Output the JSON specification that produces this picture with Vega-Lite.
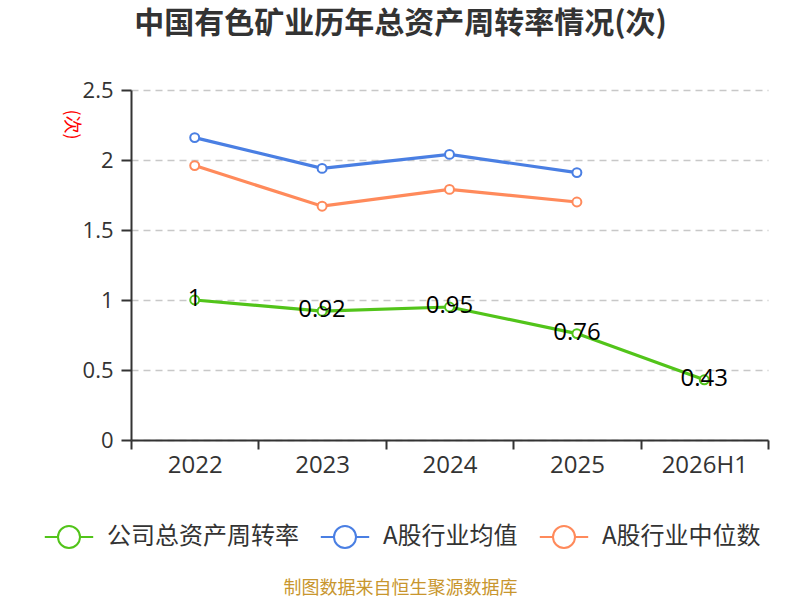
{
  "$schema": "https://vega.github.io/schema/vega-lite/v6.json",
  "width": 637,
  "height": 350,
  "autosize": {"type": "none"},
  "padding": {"left": 131, "top": 90, "right": 32, "bottom": 160},
  "background": "white",
  "title": {
    "text": "中国有色矿业历年总资产周转率情况(次)",
    "font": "Noto Sans CJK SC",
    "fontSize": 30,
    "fontWeight": "bold",
    "color": "#333333",
    "anchor": "middle",
    "frame": "group",
    "dx": -49,
    "offset": 25,
    "baseline": "middle"
  },
  "config": {
    "font": "Noto Sans CJK SC",
    "view": {"stroke": null}
  },
  "data": {
    "values": [
      {"year": "2022", "series": "公司总资产周转率", "value": 1},
      {"year": "2023", "series": "公司总资产周转率", "value": 0.92},
      {"year": "2024", "series": "公司总资产周转率", "value": 0.95},
      {"year": "2025", "series": "公司总资产周转率", "value": 0.76},
      {"year": "2026H1", "series": "公司总资产周转率", "value": 0.43},
      {"year": "2022", "series": "A股行业均值", "value": 2.16},
      {"year": "2023", "series": "A股行业均值", "value": 1.94},
      {"year": "2024", "series": "A股行业均值", "value": 2.04},
      {"year": "2025", "series": "A股行业均值", "value": 1.91},
      {"year": "2022", "series": "A股行业中位数", "value": 1.96},
      {"year": "2023", "series": "A股行业中位数", "value": 1.67},
      {"year": "2024", "series": "A股行业中位数", "value": 1.79},
      {"year": "2025", "series": "A股行业中位数", "value": 1.7}
    ]
  },
  "encoding": {
    "x": {
      "field": "year",
      "type": "nominal",
      "sort": ["2022", "2023", "2024", "2025", "2026H1"],
      "scale": {"type": "band", "paddingInner": 0, "paddingOuter": 0, "domain": ["2022", "2023", "2024", "2025", "2026H1"]},
      "axis": {
        "labelAngle": 0,
        "labelFont": "Open Sans",
        "labelFontSize": 24,
        "labelColor": "#333333",
        "labelPadding": 4,
        "domainColor": "#333333",
        "domainWidth": 2,
        "tickColor": "#333333",
        "tickWidth": 2,
        "tickSize": 9,
        "tickBand": "extent",
        "grid": false,
        "title": "制图数据来自恒生聚源数据库",
        "titleColor": "#C8962E",
        "titleFontSize": 18,
        "titleFontWeight": "normal",
        "titleX": 269,
        "titleY": 148,
        "titleBaseline": "middle"
      }
    },
    "y": {
      "field": "value",
      "type": "quantitative",
      "scale": {"domain": [0, 2.5], "nice": false},
      "axis": {
        "values": [0, 0.5, 1, 1.5, 2, 2.5],
        "labelExpr": "datum.value",
        "labelFont": "Open Sans",
        "labelFontSize": 22,
        "labelColor": "#333333",
        "labelPadding": 8,
        "domainColor": "#333333",
        "domainWidth": 2,
        "tickColor": "#333333",
        "tickWidth": 2,
        "tickSize": 10,
        "grid": true,
        "gridColor": "#C8C8C8",
        "gridDash": [7, 5],
        "gridWidth": 1.5,
        "title": "(次)",
        "titleColor": "#FF0000",
        "titleFontSize": 18,
        "titleFontWeight": "normal",
        "titleX": -61,
        "titleY": 34,
        "titleAngle": 90,
        "titleAlign": "center",
        "titleBaseline": "middle"
      }
    },
    "color": {
      "field": "series",
      "type": "nominal",
      "scale": {
        "domain": ["公司总资产周转率", "A股行业均值", "A股行业中位数"],
        "range": ["#52C41A", "#4A7FE3", "#FF8A5B"]
      },
      "legend": {
        "orient": "none",
        "direction": "horizontal",
        "legendX": -74,
        "legendY": 435,
        "title": null,
        "labelFontSize": 24,
        "labelColor": "#333333",
        "labelLimit": 400,
        "symbolType": "M-2.2,0L-1,0M1,0L2.2,0M-1,0A1,1 0 1 1 1,0A1,1 0 1 1 -1,0",
        "symbolSize": 484,
        "symbolStrokeWidth": 2,
        "symbolFillColor": "white",
        "labelOffset": 26,
        "columnPadding": 17
      }
    }
  },
  "layer": [
    {
      "mark": {"type": "line", "strokeWidth": 3.2}
    },
    {
      "mark": {"type": "point", "shape": "circle", "filled": false, "fill": "white", "size": 80, "strokeWidth": 2, "opacity": 1}
    },
    {
      "transform": [{"filter": "datum.series === '公司总资产周转率'"}],
      "mark": {"type": "text", "font": "Open Sans", "fontSize": 24, "align": "center", "baseline": "middle", "dy": -1},
      "encoding": {
        "text": {"field": "value", "type": "quantitative"},
        "color": {"value": "#000000"}
      }
    }
  ]
}
